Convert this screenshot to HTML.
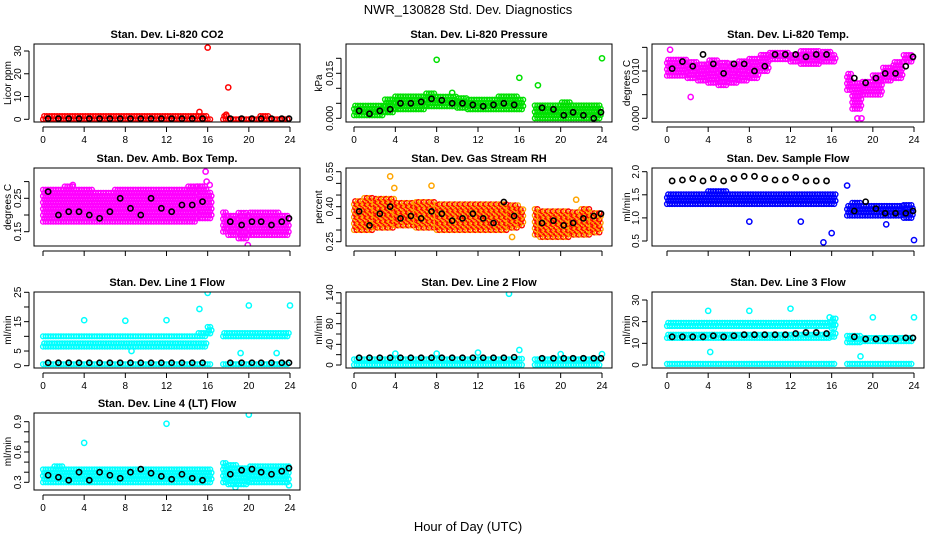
<!DOCTYPE html>
<html><head><meta charset="utf-8">
<style>
html,body{margin:0;padding:0;background:#fff;}
svg{display:block;font-family:"Liberation Sans",sans-serif;}
</style></head>
<body>
<svg id="chart" width="936" height="540" viewBox="0 0 936 540">
<text x="468" y="14" font-size="13" text-anchor="middle">NWR_130828 Std. Dev. Diagnostics</text>
<text x="468" y="531" font-size="13" text-anchor="middle">Hour of Day (UTC)</text>
</svg>
<script>
// hourly bins: A = 0..16.5 (17 bins), B = 17.5..24 (7 bins)
const binStarts = [0,1,2,3,4,5,6,7,8,9,10,11,12,13,14,15,16,17.5,18,19,20,21,22,23];
const binEnds   = [1,2,3,4,5,6,7,8,9,10,11,12,13,14,15,16,16.5,18,19,20,21,22,23,24];
const blackTimes = [0.5,1.5,2.5,3.5,4.5,5.5,6.5,7.5,8.5,9.5,10.5,11.5,12.5,13.5,14.5,15.5,18.2,19.3,20.3,21.2,22.2,23.2,23.9];
const xTicks = [0,4,8,12,16,20,24];

// Li-820 CO2
const co2Hi = [1.5,1.5,1.5,1.5,2,1.5,1.5,1.5,1.5,1.5,1.5,1.5,1.5,1.5,1.5,1.8,1.2,2,1.2,1.2,1.2,1.5,1.2,1.2];
const co2Lo = [0,0,0,0,0,0,0,0,0,0,0,0,0,0,0,0,0,0,0,0,0,0,0,0];
const co2Black = [0.3,0.3,0.3,0.3,0.3,0.3,0.3,0.3,0.3,0.3,0.3,0.3,0.3,0.3,0.3,0.3,0.3,0.3,0.3,0.3,0.3,0.3,0.3];
const co2OutT = [16,18,15.2,17.8];
const co2OutV = [31.5,14,3.2,2];
// Pressure
const prHi = [0.0045,0.0045,0.005,0.0065,0.0075,0.0075,0.008,0.0085,0.008,0.0075,0.0075,0.007,0.007,0.007,0.0075,0.0075,0.0065,0.005,0.005,0.005,0.0055,0.005,0.005,0.005];
const prLo = [0.001,0.001,0.001,0.002,0.003,0.003,0.003,0.004,0.004,0.004,0.0035,0.003,0.003,0.003,0.003,0.003,0.003,0,0,0,0,0,0,0];
const prBlack = [0.0025,0.0015,0.0025,0.003,0.005,0.005,0.0055,0.0065,0.006,0.005,0.005,0.0045,0.004,0.0045,0.005,0.0045,0.0035,0.003,0.001,0.002,0.001,0,0.002];
const prOutT = [8,16,17.8,24,9.5];
const prOutV = [0.0195,0.0135,0.011,0.0200,0.0085];
// Li-820 Temp
const tpHi = [0.0125,0.013,0.0125,0.012,0.0125,0.012,0.012,0.0125,0.013,0.0135,0.014,0.014,0.014,0.0145,0.0145,0.0145,0.014,0.0095,0.008,0.008,0.0095,0.011,0.0125,0.014];
const tpLo = [0.009,0.009,0.0085,0.008,0.0075,0.007,0.0075,0.008,0.0085,0.01,0.0125,0.0125,0.012,0.0115,0.0115,0.012,0.012,0.006,0.002,0.005,0.005,0.008,0.0085,0.012];
const tpBlack = [0.0105,0.012,0.011,0.0135,0.0115,0.0095,0.0115,0.0115,0.01,0.011,0.0135,0.0135,0.0135,0.013,0.0135,0.0135,0.0085,0.0075,0.0085,0.0095,0.0095,0.011,0.013];
const tpOutT = [18.5,18.9,2.3,0.3];
const tpOutV = [0,0,0.0045,0.0145];
// Amb box temp
const abHi = [0.28,0.28,0.29,0.28,0.28,0.27,0.27,0.28,0.28,0.28,0.28,0.28,0.28,0.28,0.29,0.29,0.27,0.21,0.2,0.21,0.21,0.21,0.21,0.2];
const abLo = [0.18,0.18,0.18,0.18,0.18,0.18,0.18,0.18,0.18,0.18,0.18,0.18,0.18,0.18,0.18,0.19,0.19,0.15,0.14,0.13,0.14,0.14,0.14,0.14];
const abBlack = [0.27,0.2,0.21,0.21,0.2,0.19,0.21,0.25,0.22,0.2,0.25,0.22,0.21,0.23,0.23,0.24,0.18,0.17,0.18,0.18,0.17,0.18,0.19];
const abOutT = [15.8,15.9,16.2,2.9,19.9];
const abOutV = [0.33,0.3,0.29,0.29,0.11];
// Gas stream RH
const rhHi = [0.43,0.44,0.44,0.44,0.42,0.42,0.42,0.42,0.42,0.42,0.42,0.41,0.41,0.41,0.41,0.41,0.40,0.40,0.39,0.38,0.38,0.38,0.39,0.38];
const rhLo = [0.30,0.30,0.31,0.31,0.32,0.32,0.31,0.31,0.30,0.30,0.30,0.30,0.30,0.30,0.30,0.31,0.32,0.28,0.27,0.27,0.27,0.28,0.28,0.29];
const rhBlack = [0.38,0.32,0.37,0.40,0.35,0.36,0.35,0.38,0.37,0.34,0.35,0.37,0.35,0.33,0.42,0.36,0.33,0.34,0.32,0.33,0.35,0.36,0.37];
const rhOutT = [3.5,3.9,7.5,15.3,21.5];
const rhOutV = [0.53,0.48,0.49,0.27,0.43];
// Sample flow
const sfHi = [1.55,1.55,1.55,1.55,1.6,1.6,1.55,1.55,1.55,1.55,1.55,1.55,1.55,1.55,1.55,1.55,1.55,1.3,1.35,1.3,1.3,1.3,1.3,1.3];
const sfLo = [1.3,1.3,1.3,1.3,1.3,1.3,1.3,1.3,1.3,1.3,1.3,1.3,1.3,1.3,1.3,1.3,1.3,1.05,1.05,1.05,1.05,1.05,1.05,1.0];
const sfBlack = [1.8,1.82,1.85,1.8,1.85,1.8,1.85,1.9,1.9,1.85,1.82,1.82,1.88,1.8,1.8,1.8,1.15,1.35,1.2,1.1,1.1,1.1,1.15];
const sfOutT = [15.2,16,17.5,24,8,13,21.3];
const sfOutV = [0.47,0.67,1.7,0.52,0.92,0.92,0.86];
// Line 1 flow (three bands)
const l1HiA = [11,11,11,11,11,11,11,11,11,11,11,11,11,11,11,11.5,13.5,11.5,11.5,11.5,11.5,11.5,11.5,11.5];
const l1LoA = [10,10,10,10,10,10,10,10,10,10,10,10,10,10,10,10,11,10,10,10,10,10,10,10];
const l1HiB = [8,8,8,8,8,8,8,8,8,8,8,8,8,8,8,8,null,null,null,null,null,null,null,null];
const l1LoB = [6.5,6.5,6.5,6.5,6.5,6.5,6.5,6.5,6.5,6.5,6.5,6.5,6.5,6.5,6.5,6.5,null,null,null,null,null,null,null,null];
const l1HiC = [1.5,1.5,1.5,1.5,1.5,1.5,1.5,1.5,1.5,1.5,1.5,1.5,1.5,1.5,1.5,1.5,1.5,1.5,1.5,1.5,1.5,1.5,1.5,1.5];
const l1LoC = [0.5,0.5,0.5,0.5,0.5,0.5,0.5,0.5,0.5,0.5,0.5,0.5,0.5,0.5,0.5,0.5,0.5,0.5,0.5,0.5,0.5,0.5,0.5,0.5];
const l1Black = [1,1,1,1,1,1,1,1,1,1,1,1,1,1,1,1,1,1,1,1,1,1,1];
const l1OutT = [4,8,12,15.2,16,20,24,19.2,22.7,8.6];
const l1OutV = [15.5,15.3,15.5,19.3,24.8,20.5,20.5,4.3,4.3,5];
// Line 2 flow
const l2HiA = [16,16,16,16,16,16,16,16,16,16,16,16,16,16,16,16,18,16,16,16,16,16,16,16];
const l2LoA = [11,11,11,11,11,11,11,11,11,11,11,11,11,11,11,11,12,11,11,11,11,11,11,11];
const l2HiB = [4,4,4,4,4,4,4,4,4,4,4,4,4,4,4,4,4,4,4,4,4,4,4,4];
const l2LoB = [0,0,0,0,0,0,0,0,0,0,0,0,0,0,0,0,0,0,0,0,0,0,0,0];
const l2Black = [14,14,14,14,14,14,14,14,14,14,14,14,14,14,14,15,13,13,13,13,13,13,13];
const l2OutT = [15,16,4,8,12,20,24];
const l2OutV = [138,29,22,22,24,21,21];
// Line 3 flow
const l3HiA = [20,20,20,20,20,20,20,20,20,20,20,20,20,20,20,20,22,13.5,13.5,13,13,13,13,13];
const l3LoA = [18,18,18,18,18,18,18,18,18,18,18,18,18,18,18,18,17,10.5,10.5,11,11,11,11,11];
const l3HiB = [14,14,14,14,14,14,14,14,14,14,14,14,14,14,14,14,15,null,null,null,null,null,null,null];
const l3LoB = [12.5,12.5,12.5,12.5,12.5,12.5,12.5,12.5,12.5,12.5,12.5,12.5,12.5,12.5,12.5,12.5,13,null,null,null,null,null,null,null];
const l3HiC = [1.5,1.5,1.5,1.5,1.5,1.5,1.5,1.5,1.5,1.5,1.5,1.5,1.5,1.5,1.5,1.5,1.5,1.5,1.5,1.5,1.5,1.5,1.5,1.5];
const l3LoC = [0.5,0.5,0.5,0.5,0.5,0.5,0.5,0.5,0.5,0.5,0.5,0.5,0.5,0.5,0.5,0.5,0.5,0.5,0.5,0.5,0.5,0.5,0.5,0.5];
const l3Black = [13,13,13,13,13.5,13,13.5,14,14,14,14,14,14.5,15,15,14.5,13,12,12,12,12,12.5,12.5];
const l3OutT = [4,8,12,16,20,24,18.8,4.2,15.8];
const l3OutV = [25,25,26,37,22,22,4,6,22];
// Line 4 flow
const l4Hi = [0.45,0.46,0.45,0.45,0.45,0.45,0.45,0.45,0.45,0.45,0.45,0.45,0.45,0.45,0.45,0.45,0.44,0.5,0.47,0.46,0.46,0.47,0.47,0.47];
const l4Lo = [0.3,0.3,0.3,0.3,0.3,0.3,0.3,0.3,0.3,0.3,0.3,0.3,0.3,0.3,0.3,0.3,0.3,0.3,0.28,0.28,0.3,0.3,0.3,0.3];
const l4Black = [0.37,0.35,0.32,0.4,0.32,0.4,0.37,0.34,0.4,0.43,0.39,0.36,0.33,0.38,0.34,0.32,0.38,0.42,0.43,0.4,0.38,0.41,0.44];
const l4OutT = [4,12,20,18.7,23.9];
const l4OutV = [0.69,0.88,0.97,0.25,0.27];

const NS = 'http://www.w3.org/2000/svg';
const svg = document.getElementById('chart');
function mk(tag, attrs, parent){const e=document.createElementNS(NS,tag);for(const k in attrs)e.setAttribute(k,attrs[k]);(parent||svg).appendChild(e);return e;}

const cols=[{L:34,R:300,x0:43,x24:290,yl:11},{L:346,R:612,x0:354,x24:602,yl:322},{L:652,R:924,x0:667,x24:914,yl:630}];
const rows=[{T:44,B:122},{T:168,B:246},{T:292,B:368},{T:413,B:490}];

const panels=[
 {name:'co2',title:'Stan. Dev. Li-820 CO2',ylab:'Licor ppm',c:0,r:0,color:'#ff0000',v0:0,p0:119.3,v1:30,p1:51,yt:[0,10,20,30],ytl:['0','10','20','30'],bands:[[co2Hi,co2Lo]],blk:co2Black,ot:co2OutT,ov:co2OutV,xl:true},
 {name:'pressure',title:'Stan. Dev. Li-820 Pressure',ylab:'kPa',c:1,r:0,color:'#00e000',v0:0,p0:118.3,v1:0.015,p1:73.3,yt:[0,0.005,0.01,0.015,0.02],ytl:['0.000','','','0.015',''],bands:[[prHi,prLo]],blk:prBlack,ot:prOutT,ov:prOutV,xl:true},
 {name:'li820-temp',title:'Stan. Dev. Li-820 Temp.',ylab:'degrees C',c:2,r:0,color:'#ff00ff',v0:0,p0:118.3,v1:0.01,p1:71,yt:[0,0.005,0.01,0.015],ytl:['0.000','','0.010',''],bands:[[tpHi,tpLo]],blk:tpBlack,ot:tpOutT,ov:tpOutV,xl:true},
 {name:'amb-box-temp',title:'Stan. Dev. Amb. Box Temp.',ylab:'degrees C',c:0,r:1,color:'#ff00ff',v0:0.15,p0:231.7,v1:0.25,p1:198.3,yt:[0.15,0.2,0.25,0.3],ytl:['0.15','','0.25',''],bands:[[abHi,abLo]],blk:abBlack,ot:abOutT,ov:abOutV,xl:false},
 {name:'gas-stream-rh',title:'Stan. Dev. Gas Stream RH',ylab:'percent',c:1,r:1,color:'#ffa500',color2:'#ff0000',v0:0.25,p0:241.7,v1:0.55,p1:171.7,yt:[0.25,0.3,0.35,0.4,0.45,0.5,0.55],ytl:['0.25','','','0.40','','','0.55'],bands:[[rhHi,rhLo]],blk:rhBlack,ot:rhOutT,ov:rhOutV,xl:false},
 {name:'sample-flow',title:'Stan. Dev. Sample Flow',ylab:'ml/min',c:2,r:1,color:'#0000ff',v0:0.5,p0:241,v1:2.0,p1:171.7,yt:[0.5,1,1.5,2],ytl:['0.5','1.0','1.5','2.0'],bands:[[sfHi,sfLo]],blk:sfBlack,ot:sfOutT,ov:sfOutV,xl:false},
 {name:'line1-flow',title:'Stan. Dev. Line 1 Flow',ylab:'ml/min',c:0,r:2,color:'#00ffff',v0:0,p0:365.7,v1:25,p1:292.3,yt:[0,5,10,15,20,25],ytl:['0','5','','15','','25'],bands:[[l1HiA,l1LoA],[l1HiB,l1LoB],[l1HiC,l1LoC]],blk:l1Black,ot:l1OutT,ov:l1OutV,xl:true},
 {name:'line2-flow',title:'Stan. Dev. Line 2 Flow',ylab:'ml/min',c:1,r:2,color:'#00ffff',v0:0,p0:365,v1:140,p1:292.7,yt:[0,20,40,60,80,100,120,140],ytl:['0','','40','','80','','','140'],bands:[[l2HiA,l2LoA],[l2HiB,l2LoB]],blk:l2Black,ot:l2OutT,ov:l2OutV,xl:true},
 {name:'line3-flow',title:'Stan. Dev. Line 3 Flow',ylab:'ml/min',c:2,r:2,color:'#00ffff',v0:0,p0:365,v1:30,p1:300,yt:[0,10,20,30],ytl:['0','10','20','30'],bands:[[l3HiA,l3LoA],[l3HiB,l3LoB],[l3HiC,l3LoC]],blk:l3Black,ot:l3OutT,ov:l3OutV,xl:true},
 {name:'line4-flow',title:'Stan. Dev. Line 4 (LT) Flow',ylab:'ml/min',c:0,r:3,color:'#00ffff',v0:0.3,p0:482.3,v1:0.9,p1:421.7,yt:[0.3,0.4,0.5,0.6,0.7,0.8,0.9],ytl:['0.3','','','0.6','','','0.9'],bands:[[l4Hi,l4Lo]],blk:l4Black,ot:l4OutT,ov:l4OutV,xl:true}
];

panels.forEach(p=>{
  const C=cols[p.c],R=rows[p.r];
  const g=mk('g',{});
  
  
  const xs=t=>C.x0+(C.x24-C.x0)*t/24;
  const ys=v=>p.p0+(p.p1-p.p0)*(v-p.v0)/(p.v1-p.v0);
  const clip='clip-'+p.name;
  const cp=mk('clipPath',{id:clip},g);mk('rect',{x:C.L,y:R.T,width:C.R-C.L,height:R.B-R.T},cp);
  const pts=mk('g',{'clip-path':'url(#'+clip+')'},g);
  // bands
  p.bands.forEach((b,bi)=>{
    const hi=b[0],lo=b[1];
    for(let i=0;i<binStarts.length;i++){
      if(hi[i]==null)continue;
      const yh=ys(hi[i]),yl=ys(lo[i]);
      let row=0;
      for(let y=yl;y>=yh-0.1;y-=3.2){
        for(let t=binStarts[i]+((row%2)?0.12:0);t<binEnds[i]-0.02;t+=0.25){
          const c=mk('circle',{cx:xs(t).toFixed(1),cy:y.toFixed(1),r:2.4,fill:'none',stroke:(p.color2&&((row+Math.round(t*4))%2))?p.color2:p.color,'stroke-width':1.4},pts);
          
          
        }
        row++;
      }
    }
  });
  p.ot.forEach((t,i)=>{
    const c=mk('circle',{cx:xs(t),cy:ys(p.ov[i]),r:2.6,fill:'none',stroke:p.color,'stroke-width':1.5},pts);
    
    
  });
  p.blk.forEach((v,i)=>{
    const c=mk('circle',{cx:xs(blackTimes[i]),cy:ys(v),r:2.6,fill:'none',stroke:'#000','stroke-width':1.6},pts);
    
    
  });
  // frame
  const fr=mk('rect',{x:C.L,y:R.T,width:C.R-C.L,height:R.B-R.T,fill:'none',stroke:'#000','stroke-width':1},g);
  
  
  // title
  const ti=mk('text',{x:(C.L+C.R)/2,y:R.T-6,'font-size':11,'font-weight':'bold','text-anchor':'middle'},g);
  ti.textContent=p.title;
  
  
  // x axis
  mk('line',{x1:xs(0),x2:xs(24),y1:R.B+5,y2:R.B+5,stroke:'#000'},g);
  xTicks.forEach(t=>{
    mk('line',{x1:xs(t),x2:xs(t),y1:R.B+5,y2:R.B+10,stroke:'#000'},g);
    if(p.xl){const tx=mk('text',{x:xs(t),y:R.B+21,'font-size':10,'text-anchor':'middle'},g);tx.textContent=t;
      
      }
  });
  // y axis
  const ax=C.L-5;
  const vis=p.yt.filter(v=>ys(v)>=R.T-1&&ys(v)<=R.B+1);
  mk('line',{x1:ax,x2:ax,y1:ys(vis[0]),y2:ys(vis[vis.length-1]),stroke:'#000'},g);
  p.yt.forEach((v,i)=>{
    const y=ys(v); if(y<R.T-1||y>R.B+1)return;
    mk('line',{x1:ax-5,x2:ax,y1:y,y2:y,stroke:'#000'},g);
    if(p.ytl[i]){const tx=mk('text',{x:ax-8,y:y,'font-size':10,'text-anchor':'middle',transform:`rotate(-90 ${ax-8} ${y})`},g);tx.textContent=p.ytl[i];
      
      }
  });
  const yc=(R.T+R.B)/2;
  const yl=mk('text',{x:C.yl,y:yc,'font-size':10,'text-anchor':'middle',transform:`rotate(-90 ${C.yl} ${yc})`},g);
  yl.textContent=p.ylab;
  
  
});
</script>
</body></html>
